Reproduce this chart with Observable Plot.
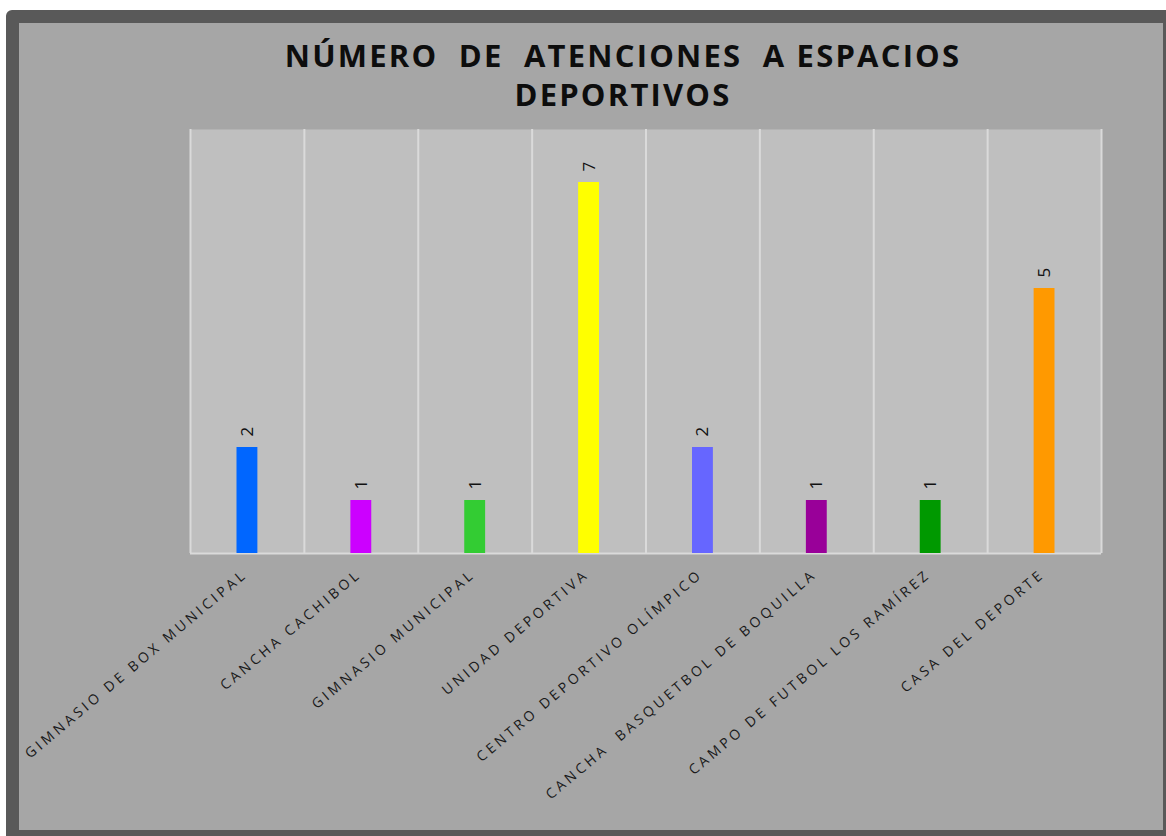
<!DOCTYPE html>
<html><head><meta charset="utf-8">
<script src="https://cdn.jsdelivr.net/npm/d3@7"></script>
<script src="https://cdn.jsdelivr.net/npm/@observablehq/plot@0.6"></script>
<style>
html,body{margin:0;padding:0;background:#fff;overflow:hidden;width:1166px;height:836px}
#frame{position:absolute;left:6px;top:10px;width:1170px;height:833px;box-sizing:border-box;border:13px solid #595959;border-radius:6px;background:#a6a6a6}
#title{position:absolute;left:32px;top:13px;width:1144px;text-align:center;font-family:"Open Sans",sans-serif;font-weight:700;font-size:31px;line-height:39px;letter-spacing:2.2px;color:#0d0d0d;white-space:pre}
#chart{position:absolute;left:0;top:88px}
</style></head>
<body>
<div id="frame">
  <div id="title">NÚMERO  DE  ATENCIONES  A ESPACIOS
DEPORTIVOS</div>
  <div id="chart"></div>
</div>
<script>
const categories = ["GIMNASIO DE BOX MUNICIPAL","CANCHA CACHIBOL","GIMNASIO MUNICIPAL","UNIDAD DEPORTIVA","CENTRO DEPORTIVO OLÍMPICO","CANCHA  BASQUETBOL DE BOQUILLA","CAMPO DE FUTBOL LOS RAMÍREZ","CASA DEL DEPORTE"];
const values = [2,1,1,7,2,1,1,5];
const barColors = ["#0066ff","#cc00ff","#33cc33","#ffff00","#6666ff","#990099","#009900","#ff9900"];

const data = categories.map((c,i)=>({name:c, value:values[i]}));
const W = 1144, ML = 171, MR = 62;
const step = (W - ML - MR) / categories.length;

const chart = Plot.plot({
  width: W, height: 720,
  marginLeft: ML, marginRight: MR, marginTop: 18, marginBottom: 278,
  style: {background: "transparent", fontFamily: "'Open Sans', sans-serif", overflow: "visible"},
  x: {domain: categories, padding: 0, round: false, axis: null},
  y: {domain: [0, 8], axis: null},
  color: {domain: categories, range: barColors},
  marks: [
    Plot.frame({fill: "#bfbfbf", stroke: "none"}),
    Plot.ruleX(categories, {x: d => d, dx: -step/2, stroke: "#dadada", strokeWidth: 2}),
    Plot.ruleX([categories[categories.length-1]], {x: d => d, dx: step/2, stroke: "#dadada", strokeWidth: 2}),
    Plot.ruleY([0], {stroke: "#dadada", strokeWidth: 2}),
    Plot.barY(data, {x: "name", y: "value", fill: "name", insetLeft: 46.5, insetRight: 46.5}),
    Plot.text(data, {x: "name", y: "value", text: d => String(d.value), rotate: -90, textAnchor: "start", lineAnchor: "middle", dy: -11, fontSize: 17, fill: "#111"}),
    Plot.text(data, {x: "name", y: d => 0, text: "name", rotate: -40, textAnchor: "end", lineAnchor: "middle", dx: -2, dy: 19, fontSize: 14, fill: "#1a1a1a"})
  ]
});
chart.querySelectorAll("text").forEach(t => { if (t.textContent.length > 2) t.style.letterSpacing = "3.4px"; });
document.getElementById("chart").appendChild(chart);
</script>
</body></html>
